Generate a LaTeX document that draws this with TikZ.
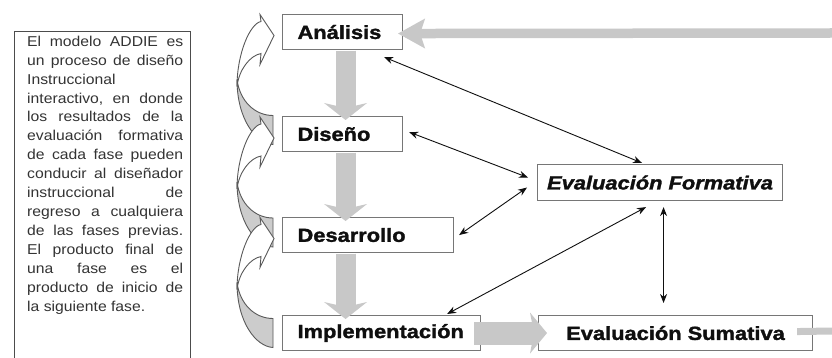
\documentclass[tikz,border=0pt]{standalone}
\usepackage{fontspec}
\setmainfont{Liberation Sans}
\newfontfamily\lblbf{Liberation Sans Bold}[FakeStretch=1.15,FakeBold=1.6]
\newfontfamily\lblbfit{Liberation Sans Bold Italic}[FakeStretch=1.15,FakeBold=1.6]
\newfontfamily\bodyfont{Liberation Sans}[FakeStretch=1.1]
\usetikzlibrary{calc,arrows.meta}
\definecolor{arrg}{RGB}{200,200,200}
\definecolor{bord}{RGB}{118,118,118}
\definecolor{ink}{RGB}{15,15,15}
\newcommand\gap{\hskip 0.28em plus 1fill\relax}
\newcommand\jline[1]{\hbox to 156pt{#1}}
\newcommand\lline[1]{\hbox to 156pt{#1\hfil}}
\newcommand\curvearr[1]{%
  \filldraw[cback] (237,#1+48) .. controls (240,#1+70) and (255,#1+84) .. (273,#1+84)
     -- (273,#1+113) .. controls (256,#1+112) and (237,#1+88) .. (237,#1+48) -- cycle;
  \filldraw[cfront] (237,#1+55) .. controls (237,#1+22) and (250,#1-8) .. (261,#1-10)
     -- (260,#1-17) -- (274,#1+4) -- (260,#1+33) -- (261,#1+22)
     .. controls (250,#1+24) and (239,#1+38) .. (237,#1+55) -- cycle;
}
\begin{document}
\begin{tikzpicture}[x=1pt,y=-1pt,
  phase/.style={draw=bord,line width=1.1pt,fill=white,anchor=north west,inner xsep=15pt,inner ysep=0pt,minimum height=35pt,align=left,text=ink,font=\lblbf\fontsize{19}{22}\selectfont},
  evalbox/.style={draw=bord,line width=1.1pt,fill=white,anchor=north west,inner xsep=0pt,inner ysep=0pt,align=center,text=ink,font=\lblbf\fontsize{19}{22}\selectfont},
  garrow/.style={draw=arrg,line cap=butt},
  dbl/.style={draw=ink,line width=0.9pt,{Stealth[length=9pt,width=7pt]}-{Stealth[length=9pt,width=7pt]}},
  cback/.style={draw=black!65,line width=0.9pt,fill=black!20},
  cfront/.style={draw=black!65,line width=0.9pt,fill=white}]
\useasboundingbox (0,0) rectangle (832,358);
\fill[white] (0,0) rectangle (832,358);

% text frame
\node[draw=black!70,line width=1.3pt,fill=white,anchor=north west,minimum width=176pt,minimum height=335pt,inner sep=0pt] (frame) at (14,31) {};
\node[anchor=north west,inner sep=0pt,text=black!80,font=\bodyfont\fontsize{14.3}{18.93}\selectfont] (txt) at (27,35.7) {\vbox{\hsize=156pt\baselineskip=18.93pt\lineskiplimit=-20pt
\jline{El\gap modelo\gap ADDIE\gap es}
\jline{un\gap proceso\gap de\gap diseño}
\lline{Instruccional}
\jline{interactivo,\gap en\gap donde}
\jline{los\gap resultados\gap de\gap la}
\jline{evaluación\gap formativa}
\jline{de\gap cada\gap fase\gap pueden}
\jline{conducir\gap al\gap diseñador}
\jline{instruccional\gap de}
\jline{regreso\gap a\gap cualquiera}
\jline{de\gap las\gap fases\gap previas.}
\jline{El\gap producto\gap final\gap de}
\jline{una\gap fase\gap es\gap el}
\jline{producto\gap de\gap inicio\gap de}
\lline{la siguiente fase.}}};

% curved feedback arrows
\curvearr{31.5}
\curvearr{134}
\curvearr{234.5}

% phase boxes
\node[phase,text width=90pt] (ana) at (282,14) {Análisis};
\node[phase,text width=90pt] (dis) at (282,116) {Diseño};
\node[phase,text width=141pt] (des) at (282,217) {Desarrollo};
\node[phase,text width=168pt] (imp) at (282,315) {Implementación};
\node[evalbox,minimum width=245pt,minimum height=36pt,font=\lblbfit\fontsize{19}{22}\selectfont] (ef) at (537,164) {Evaluación Formativa};
\node[evalbox,minimum width=274pt,minimum height=35pt] (es) at (538,315) {Evaluación Sumativa};

% gray flow arrows
\coordinate (rin) at (832,33);
\coordinate (rout) at (832,331);
\draw[garrow,line width=9.5pt,-{Stealth[length=27pt,width=30pt,inset=5pt,line width=0pt]}] (rin) -- ($(ana.east)+(-5,1.5)$);
\draw[garrow,line width=20pt,-{Stealth[length=17pt,width=43pt,inset=5pt,line width=0pt]}] ($(ana.south)+(3,0.5)$) -- ($(ana.south |- dis.north)+(3,4)$);
\draw[garrow,line width=20pt,-{Stealth[length=17pt,width=43pt,inset=5pt,line width=0pt]}] ($(dis.south)+(3,0.5)$) -- ($(dis.south |- des.north)+(3,4)$);
\draw[garrow,line width=20pt,-{Stealth[length=17pt,width=43pt,inset=5pt,line width=0pt]}] ($(dis.south |- des.south)+(3,0.5)$) -- ($(dis.south |- imp.north)+(3,4)$);
\draw[garrow,line width=23pt,-{Stealth[length=17pt,width=41pt,inset=4pt,line width=0pt]}] ($(imp.east)+(-7,0)$) -- ($(es.west)+(9,0)$);
\draw[garrow,line width=7pt] ($(es.east)+(-16,-1.5)$) -- (rout);

% black feedback connectors
\draw[dbl] ($(ana.south east)+(-19,7)$) -- ($(ef.north)+(-18,-1)$);
\draw[dbl] ($(dis.east)+(6,-2)$) -- ($(ef.west)+(-9,-5)$);
\draw[dbl] ($(des.east)+(5,0)$) -- ($(ef.west)+(-10,5)$);
\draw[dbl] ($(imp.north east)+(-34,-1)$) -- ($(ef.south)+(-14,6)$);
\draw[dbl] ($(ef.south)+(3.5,6)$) -- ($(es.north)+(-12,-12)$);
\end{tikzpicture}
\end{document}
